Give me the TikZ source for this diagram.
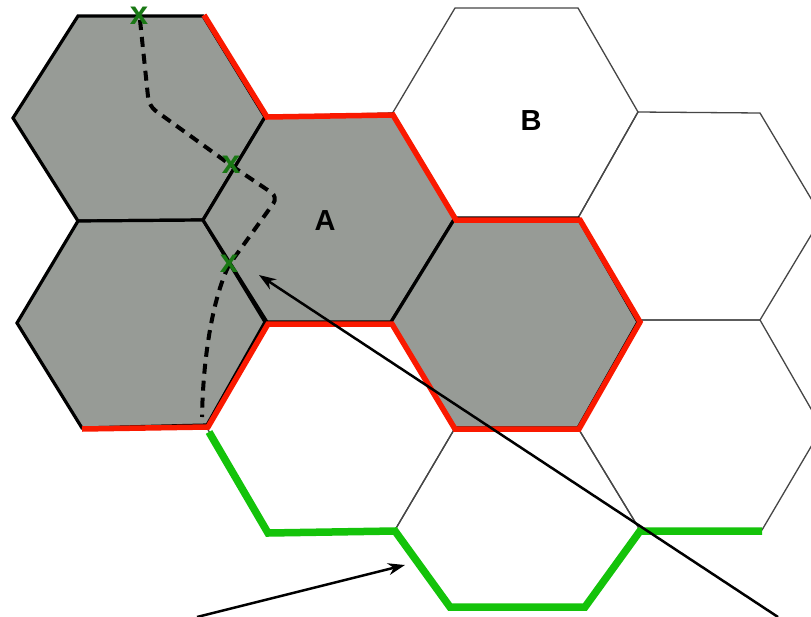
\documentclass[tikz,border=0pt]{standalone}
\usepackage{fontspec}
\setmainfont{Liberation Sans}
\usetikzlibrary{arrows.meta}
\definecolor{hexgray}{RGB}{151,155,150}
\definecolor{edgered}{RGB}{250,25,0}
\definecolor{edgegreen}{RGB}{20,195,10}
\definecolor{markgreen}{RGB}{25,120,20}
\definecolor{thinline}{RGB}{70,70,70}
\tikzset{
  thinhex/.style={draw=thinline, line width=1.3pt, line join=miter},
  grayhex/.style={fill=hexgray, draw=black, line width=3.2pt, line join=miter},
  redpath/.style={draw=edgered, line width=5.5pt, line join=miter},
  greenpath/.style={draw=edgegreen, line width=7.5pt, line join=miter},
  dashpath/.style={draw=black, line width=4pt, dash pattern=on 10pt off 7pt},
  xmark/.style={text=markgreen, font=\bfseries\fontsize{33}{33}\selectfont, inner sep=0pt},
  hexlabel/.style={font=\bfseries\fontsize{29}{29}\selectfont, inner sep=0pt},
  pointer/.style={draw=black, line width=2.5pt, -{Stealth[length=17pt,width=12pt]}}
}
\begin{document}
\begin{tikzpicture}[x=1pt,y=-1pt]
\useasboundingbox (0,0) rectangle (811,616);
\clip (0,0) rectangle (811,616);
\fill[white] (0,0) rectangle (811,616);
% white hexes
\draw[thinhex] (455,8) -- (578,8) -- (638,112) -- (578,218) -- (455,218) -- (392,114) -- cycle;
\draw[thinhex] (638,112) -- (760,113) -- (822,217) -- (760,320) -- (640,320) -- (578,218) -- cycle;
\draw[thinhex] (640,320) -- (760,320) -- (822,428) -- (762,530) -- (640,530) -- (578,428) -- cycle;
\draw[thinhex] (267,322) -- (391,322) -- (455,428) -- (395,530) -- (268,533) -- (207,428) -- cycle;
\draw[thinhex] (455,428) -- (578,428) -- (640,530) -- (585,607) -- (450,607) -- (395,530) -- cycle;
% gray hexes
\draw[grayhex] (78,16) -- (203,16) -- (265,117) -- (203,220) -- (78,221) -- (13,118) -- cycle;
\draw[grayhex] (78,221) -- (203,220) -- (265,322) -- (207,425) -- (82,428) -- (17,323) -- cycle;
\draw[grayhex] (265,117) -- (392,114) -- (455,218) -- (391,322) -- (267,322) -- (203,220) -- cycle;
\draw[grayhex] (455,218) -- (578,218) -- (638,322) -- (578,428) -- (455,428) -- (391,322) -- cycle;
% red boundary
\draw[redpath] (204,15) -- (267,117) -- (393,115) -- (456,220) -- (580,220) -- (640,322) -- (579,429)
  -- (455,429) -- (392,324) -- (268,324) -- (208,427) -- (82,429);
% green boundary
\draw[greenpath] (209,432) -- (268,533) -- (395,531) -- (450,607) -- (585,607) -- (640,531) -- (762,531);
% dashed route
\draw[dashpath, rounded corners=8pt] (140,20) -- (149,106) -- (232,166) -- (278,197) -- (229,265);
\draw[dashpath] (229,265) .. controls (212,300) and (203,360) .. (202,417);
% crossing marks
\node[xmark] (x1) at (139,16) {x};
\node[xmark] (x2) at (231,165) {x};
\node[xmark] (x3) at (229,264) {x};
% labels
\node[hexlabel] (A) at (325,221) {A};
\node[hexlabel] (B) at (531,121) {B};
% pointers
\coordinate (p1s) at (778,617);
\coordinate (p1e) at (259,275);
\coordinate (p2s) at (197,617);
\coordinate (p2e) at (405,565);
\draw[pointer] (p1s) -- (p1e);
\draw[pointer] (p2s) -- (p2e);
\end{tikzpicture}
\end{document}
